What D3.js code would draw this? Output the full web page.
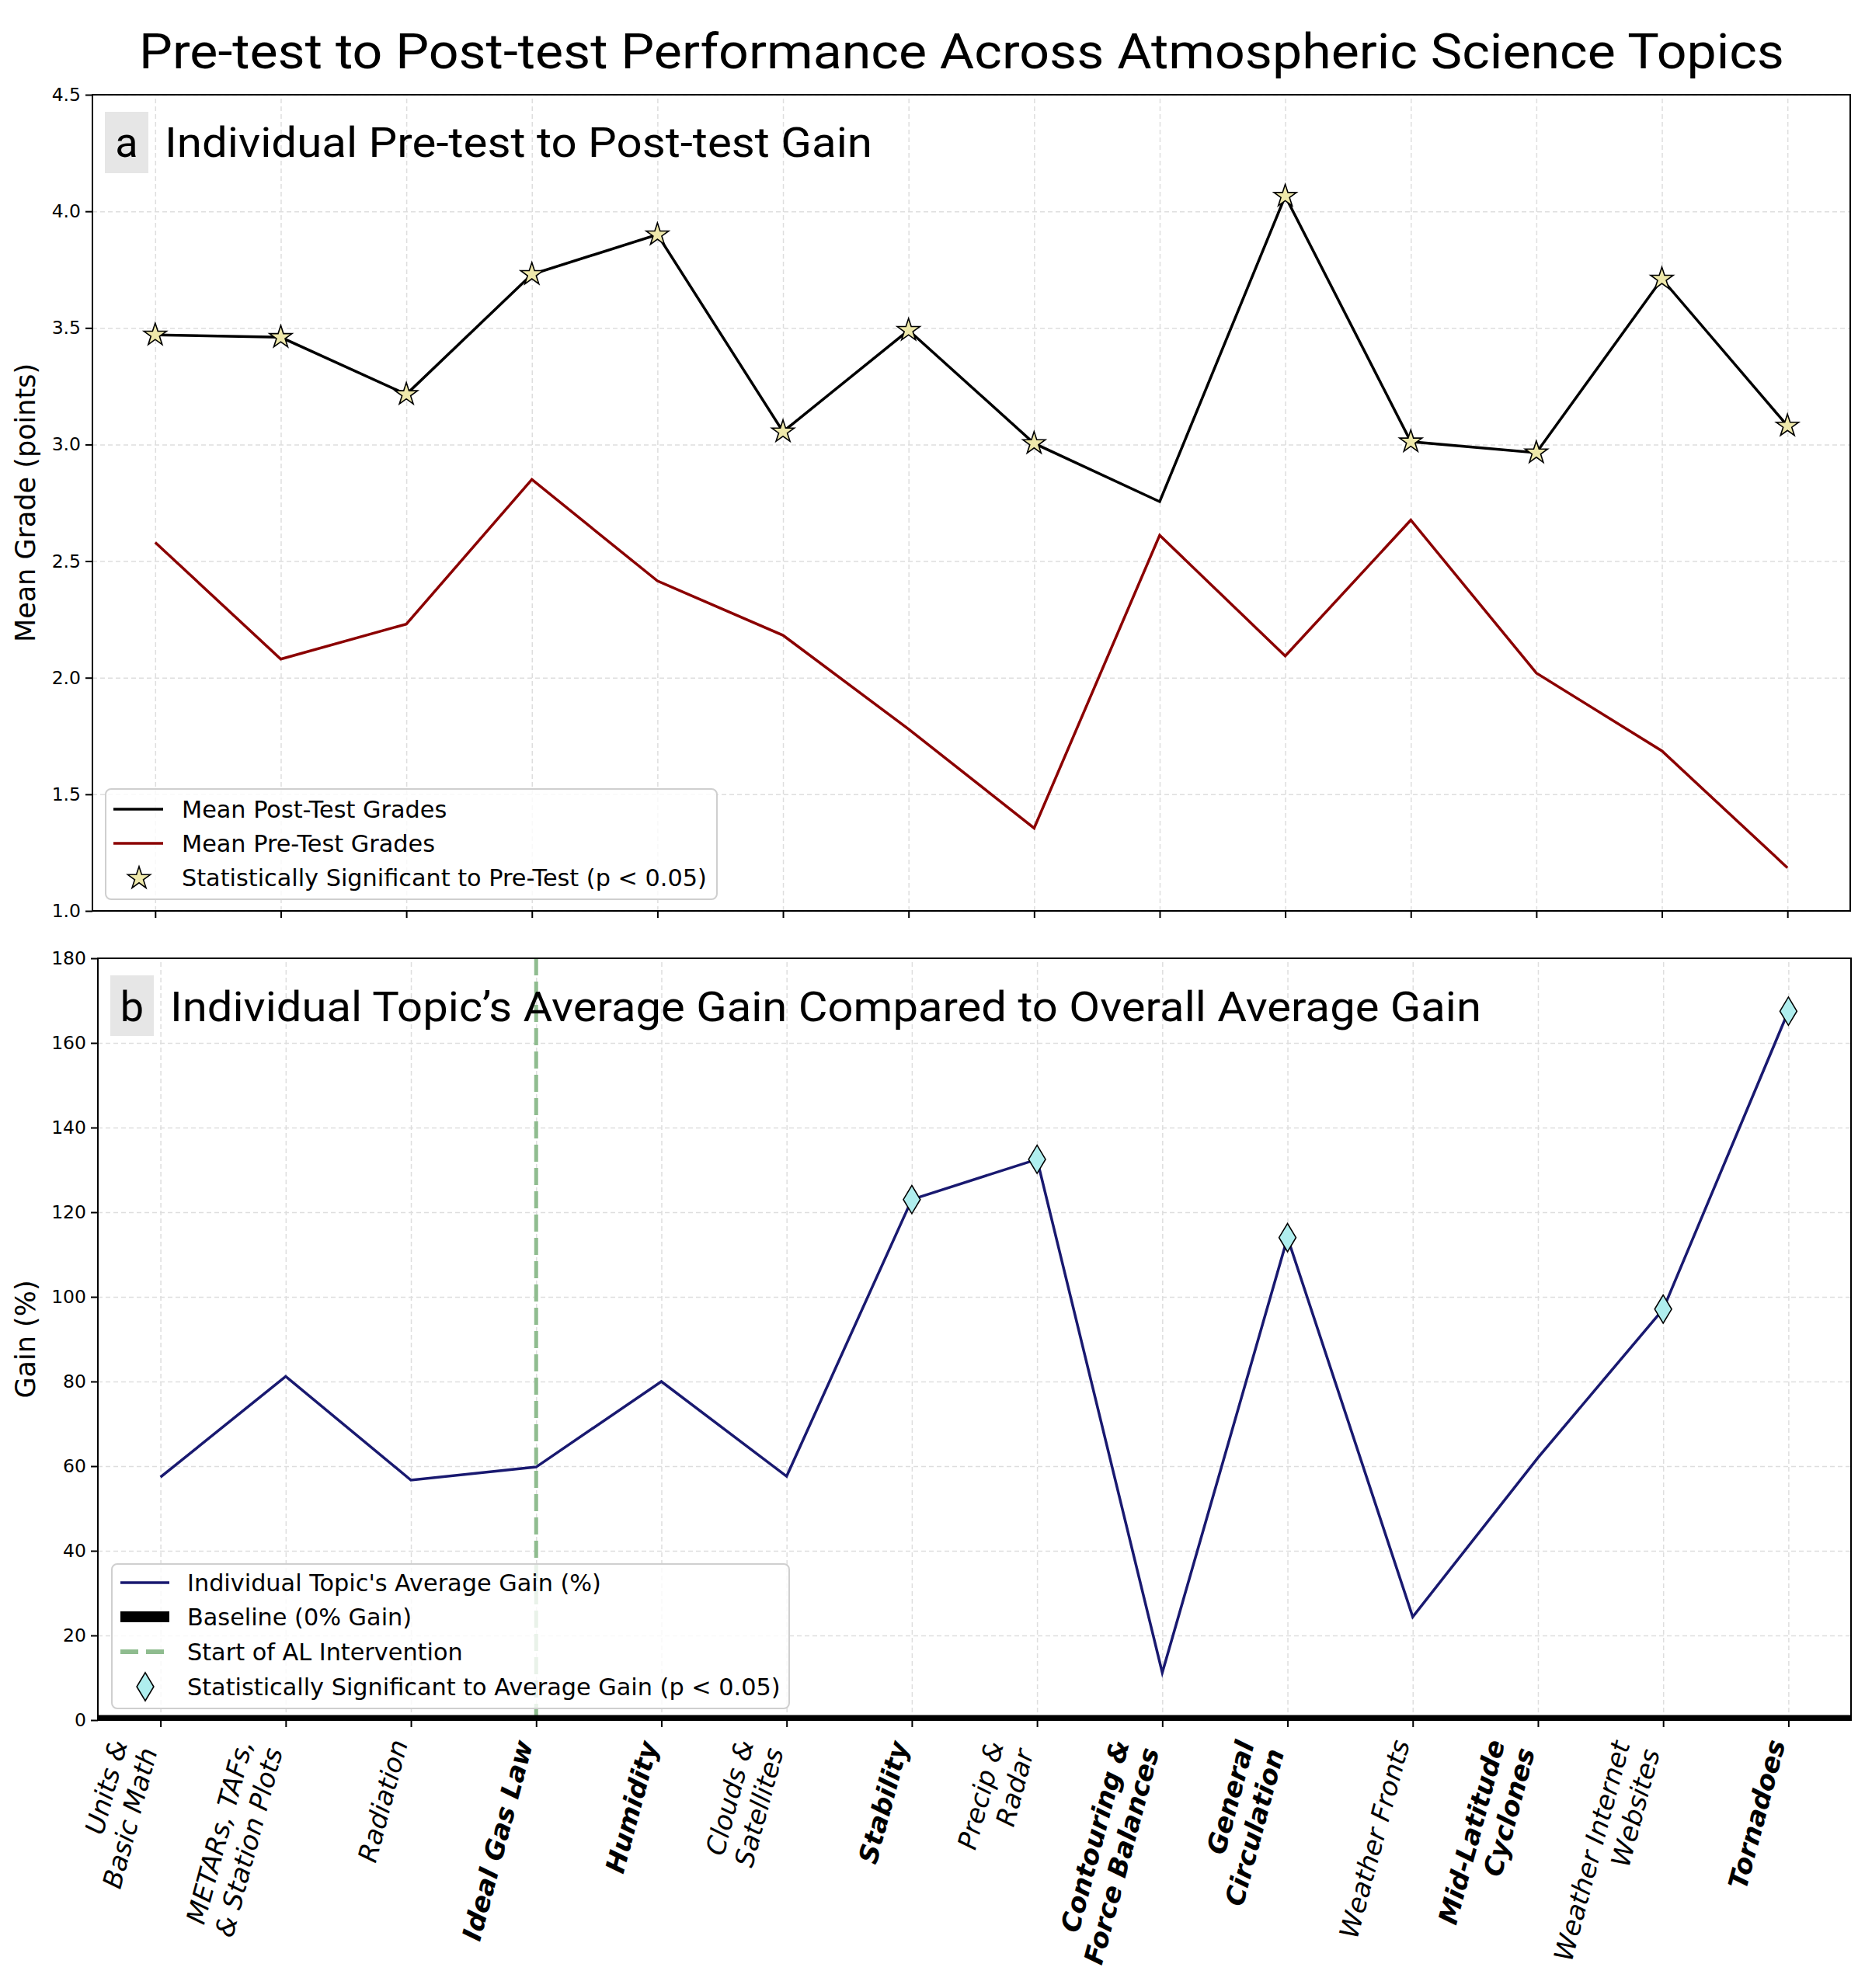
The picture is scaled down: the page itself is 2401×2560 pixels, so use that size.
<!DOCTYPE html>
<html lang="en">

<head>
  <meta charset="UTF-8" />
  <title>Pre-test to Post-test Performance Across Atmospheric Science Topics</title>
  <script src="https://d3js.org/d3.v7.min.js"></script>
  <style>
    body {
      margin: 0;
      background: #ffffff;
    }

    svg {
      display: block;
    }

    .grid line {
      stroke: #dedede;
      stroke-width: 1.5;
      stroke-dasharray: 6, 4;
    }

    .grid .domain,
    .axis .domain {
      display: none;
    }

    .axis line {
      stroke: #000;
      stroke-width: 2;
    }

    .axis text {
      font-family: "DejaVu Sans", sans-serif;
      font-size: 23.5px;
      fill: #000;
    }

    .legend text {
      font-family: "DejaVu Sans", sans-serif;
      font-size: 30.3px;
      fill: #000;
    }

    .panel-title {
      font-family: Roboto, sans-serif;
      fill: #000;
    }
  </style>
</head>

<body>
  <svg id="chart"></svg>
  <script>
    const topics = [
      "Units &\nBasic Math",
      "METARs, TAFs,\n& Station Plots",
      "Radiation",
      "Ideal Gas Law",
      "Humidity",
      "Clouds &\nSatellites",
      "Stability",
      "Precip &\nRadar",
      "Contouring &\nForce Balances",
      "General\nCirculation",
      "Weather Fronts",
      "Mid-Latitude\nCyclones",
      "Weather Internet\nWebsites",
      "Tornadoes",
    ];
    const boldTopics = [false, false, false, true, true, false, true, false, true, true, false, true, false, true];

    const postTest = [3.47, 3.46, 3.215, 3.73, 3.90, 3.055, 3.49, 3.005, 2.755, 4.065, 3.012, 2.965, 3.71, 3.08];
    const preTest = [2.58, 2.08, 2.23, 2.85, 2.415, 2.182, 1.78, 1.355, 2.611, 2.093, 2.676, 2.02, 1.686, 1.185];
    const postSignificant = [true, true, true, true, true, true, true, true, false, true, true, true, true, true];

    const gainPct = [57.4, 81.2, 56.7, 59.8, 80.0, 57.6, 123.0, 132.5, 11.2, 114.0, 24.4, 62.0, 97.1, 167.5];
    const gainSignificant = [false, false, false, false, false, false, true, true, false, true, false, false, true, true];
    const interventionStart = 3;

    const gradeTicks = [1.0, 1.5, 2.0, 2.5, 3.0, 3.5, 4.0, 4.5];
    const gainTicks = [0, 20, 40, 60, 80, 100, 120, 140, 160, 180];

    const width = 2401;
    const height = 2560;
    const panelA = { left: 119, right: 2382, top: 122, bottom: 1173 };
    const panelB = { left: 126, right: 2383, top: 1234, bottom: 2215 };

    const idx = d3.range(topics.length);
    const xA = d3.scaleLinear().domain([-0.5, topics.length - 0.5]).range([panelA.left, panelA.right]);
    const yA = d3.scaleLinear().domain([1, 4.5]).range([panelA.bottom, panelA.top]);
    const xB = d3.scaleLinear().domain([-0.5, topics.length - 0.5]).range([panelB.left, panelB.right]);
    const yB = d3.scaleLinear().domain([0, 180]).range([panelB.bottom, panelB.top]);

    const thinDiamond = {
      draw(ctx, size) {
        const h = Math.sqrt(size);
        const w = h * 0.6;
        ctx.moveTo(0, -h);
        ctx.lineTo(w, 0);
        ctx.lineTo(0, h);
        ctx.lineTo(-w, 0);
        ctx.closePath();
      },
    };
    const starPath = d3.symbol(d3.symbolStar, 262)();
    const diamondPath = d3.symbol(thinDiamond, 330)();

    const svg = d3.select("#chart").attr("width", width).attr("height", height);
    svg.append("rect").attr("width", width).attr("height", height).attr("fill", "#fff");

    // main title
    svg.append("text")
      .attr("class", "panel-title")
      .attr("x", 1238)
      .attr("y", 88)
      .attr("text-anchor", "middle")
      .attr("textLength", 2118)
      .attr("lengthAdjust", "spacingAndGlyphs")
      .style("font-size", "63px")
      .text("Pre-test to Post-test Performance Across Atmospheric Science Topics");

    function drawGrid(p, x, y, yTicks) {
      svg.append("g")
        .attr("class", "grid")
        .attr("transform", `translate(0,${p.bottom})`)
        .call(d3.axisBottom(x).tickValues(idx).tickSize(-(p.bottom - p.top)).tickFormat(""));
      svg.append("g")
        .attr("class", "grid")
        .attr("transform", `translate(${p.left},0)`)
        .call(d3.axisLeft(y).tickValues(yTicks).tickSize(-(p.right - p.left)).tickFormat(""));
    }

    function drawAxes(p, x, y, yTicks, fmt) {
      svg.append("g")
        .attr("class", "axis")
        .attr("transform", `translate(${p.left},0)`)
        .call(d3.axisLeft(y).tickValues(yTicks).tickFormat(fmt).tickSize(9).tickPadding(6).tickSizeOuter(0));
      svg.append("g")
        .attr("class", "axis")
        .attr("transform", `translate(0,${p.bottom})`)
        .call(d3.axisBottom(x).tickValues(idx).tickFormat("").tickSize(9).tickSizeOuter(0));
      svg.append("rect")
        .attr("x", p.left)
        .attr("y", p.top)
        .attr("width", p.right - p.left)
        .attr("height", p.bottom - p.top)
        .attr("fill", "none")
        .attr("stroke", "#000")
        .attr("stroke-width", 2);
    }

    function panelTitle(letter, text, box, textX, baseline, textWidth) {
      svg.append("rect")
        .attr("x", box[0]).attr("y", box[1])
        .attr("width", box[2]).attr("height", box[3])
        .attr("fill", "#e6e6e6");
      svg.append("text")
        .attr("class", "panel-title")
        .attr("x", box[0] + box[2] / 2)
        .attr("y", baseline)
        .attr("text-anchor", "middle")
        .style("font-size", "54px")
        .text(letter);
      svg.append("text")
        .attr("class", "panel-title")
        .attr("x", textX)
        .attr("y", baseline)
        .attr("textLength", textWidth)
        .attr("lengthAdjust", "spacingAndGlyphs")
        .style("font-size", "54px")
        .text(text);
    }

    function yLabel(text, p) {
      svg.append("text")
        .attr("transform", `translate(45,${(p.top + p.bottom) / 2}) rotate(-90)`)
        .attr("text-anchor", "middle")
        .style("font-family", "DejaVu Sans, sans-serif")
        .style("font-size", "35px")
        .text(text);
    }

    function legendBox(x, y, w, h) {
      const g = svg.append("g").attr("class", "legend");
      g.append("rect")
        .attr("x", x).attr("y", y)
        .attr("width", w).attr("height", h)
        .attr("rx", 7)
        .attr("fill", "#fff")
        .attr("fill-opacity", 0.8)
        .attr("stroke", "#cfcfcf")
        .attr("stroke-width", 2);
      return g;
    }

    // ---- panel a ----
    drawGrid(panelA, xA, yA, gradeTicks);

    const lineA = d3.line().x((d, i) => xA(i)).y((d) => yA(d));
    svg.append("path")
      .datum(preTest)
      .attr("d", lineA)
      .attr("fill", "none")
      .attr("stroke", "#8b0000")
      .attr("stroke-width", 3.5);
    svg.append("path")
      .datum(postTest)
      .attr("d", lineA)
      .attr("fill", "none")
      .attr("stroke", "#000")
      .attr("stroke-width", 3.5);
    svg.append("g")
      .selectAll("path")
      .data(idx.filter((i) => postSignificant[i]))
      .join("path")
      .attr("d", starPath)
      .attr("transform", (i) => `translate(${xA(i)},${yA(postTest[i])})`)
      .attr("fill", "#eee8aa")
      .attr("stroke", "#000")
      .attr("stroke-width", 1.6);

    drawAxes(panelA, xA, yA, gradeTicks, d3.format(".1f"));
    yLabel("Mean Grade (points)", panelA);
    panelTitle("a", "Individual Pre-test to Post-test Gain", [135, 144, 56, 79], 212, 202, 911);

    const legA = legendBox(136, 1016, 787, 142);
    legA.append("line").attr("x1", 146).attr("x2", 210).attr("y1", 1042).attr("y2", 1042)
      .attr("stroke", "#000").attr("stroke-width", 3.5);
    legA.append("line").attr("x1", 146).attr("x2", 210).attr("y1", 1086).attr("y2", 1086)
      .attr("stroke", "#8b0000").attr("stroke-width", 3.5);
    legA.append("path").attr("d", starPath).attr("transform", "translate(179,1131)")
      .attr("fill", "#eee8aa").attr("stroke", "#000").attr("stroke-width", 1.6);
    [["Mean Post-Test Grades", 1042], ["Mean Pre-Test Grades", 1086], ["Statistically Significant to Pre-Test (p < 0.05)", 1130]]
      .forEach(([t, cy]) => {
        legA.append("text").attr("x", 234).attr("y", cy + 11).text(t);
      });

    // ---- panel b ----
    drawGrid(panelB, xB, yB, gainTicks);

    svg.append("line")
      .attr("x1", xB(interventionStart)).attr("x2", xB(interventionStart))
      .attr("y1", panelB.top).attr("y2", panelB.bottom)
      .attr("stroke", "#8fbc8f")
      .attr("stroke-width", 5)
      .attr("stroke-dasharray", "22,8");

    const lineB = d3.line().x((d, i) => xB(i)).y((d) => yB(d));
    svg.append("path")
      .datum(gainPct)
      .attr("d", lineB)
      .attr("fill", "none")
      .attr("stroke", "#191970")
      .attr("stroke-width", 3.5);
    svg.append("g")
      .selectAll("path")
      .data(idx.filter((i) => gainSignificant[i]))
      .join("path")
      .attr("d", diamondPath)
      .attr("transform", (i) => `translate(${xB(i)},${yB(gainPct[i])})`)
      .attr("fill", "#afeeee")
      .attr("stroke", "#000")
      .attr("stroke-width", 1.6);

    drawAxes(panelB, xB, yB, gainTicks, d3.format("d"));

    svg.append("line")
      .attr("x1", panelB.left).attr("x2", panelB.right)
      .attr("y1", yB(0) - 3).attr("y2", yB(0) - 3)
      .attr("stroke", "#000")
      .attr("stroke-width", 7);

    yLabel("Gain (%)", panelB);
    panelTitle("b", "Individual Topic\u2019s Average Gain Compared to Overall Average Gain", [142, 1256, 56, 78], 219, 1315, 1688);

    const legB = legendBox(144, 2014, 872, 186);
    legB.append("line").attr("x1", 155).attr("x2", 218).attr("y1", 2038).attr("y2", 2038)
      .attr("stroke", "#191970").attr("stroke-width", 3.5);
    legB.append("rect").attr("x", 155).attr("y", 2075).attr("width", 63).attr("height", 14).attr("fill", "#000");
    legB.append("line").attr("x1", 155).attr("x2", 218).attr("y1", 2127).attr("y2", 2127)
      .attr("stroke", "#8fbc8f").attr("stroke-width", 6).attr("stroke-dasharray", "23,10");
    legB.append("path").attr("d", diamondPath).attr("transform", "translate(187,2172)")
      .attr("fill", "#afeeee").attr("stroke", "#000").attr("stroke-width", 1.6);
    [["Individual Topic's Average Gain (%)", 2038], ["Baseline (0% Gain)", 2082], ["Start of AL Intervention", 2127], ["Statistically Significant to Average Gain (p < 0.05)", 2172]]
      .forEach(([t, cy]) => {
        legB.append("text").attr("x", 241).attr("y", cy + 11).text(t);
      });

    // rotated topic labels under panel b
    const labelTop = 2236;
    const labels = svg.append("g");
    idx.forEach((i) => {
      const outer = labels.append("g");
      const t = outer.append("text")
        .attr("transform", "rotate(-75)")
        .attr("text-anchor", "end")
        .style("font-family", "DejaVu Sans, sans-serif")
        .style("font-size", "34px")
        .style("font-style", "italic")
        .style("font-weight", boldTopics[i] ? "bold" : "normal");
      topics[i].split("\n").forEach((line, k) => {
        t.append("tspan").attr("x", 0).attr("dy", k === 0 ? 0 : "1.17em").text(line);
      });
      const bb = outer.node().getBBox();
      outer.attr("transform", `translate(${xB(i) - (bb.x + bb.width) + 4},${labelTop - bb.y})`);
    });
  </script>
</body>

</html>
